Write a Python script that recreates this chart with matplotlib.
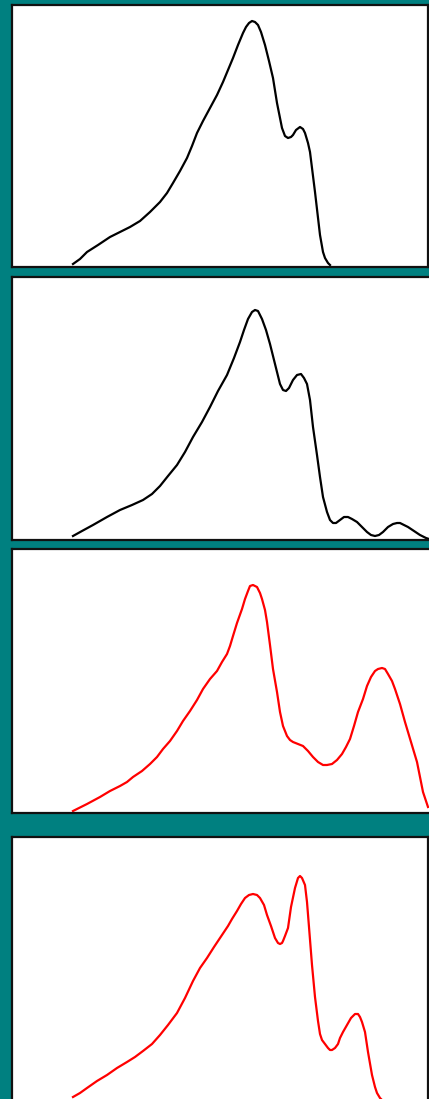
from matplotlib import pyplot as plt

W, H = 429, 1099

# Panel traces: x = position from panel left edge, y = height above baseline
p1_x = [61, 68, 75, 86, 98, 108, 118, 128, 138, 148, 155, 161, 168, 175, 180, 185, 191,
        198, 205, 211, 216, 221, 226, 231, 234, 237, 240, 243, 246, 249, 253, 257, 261,
        265, 270, 273, 276, 279, 281, 284, 288, 291, 293, 296, 298, 303, 308, 311, 313,
        316, 318]
p1_y = [3, 8, 15, 22, 30, 35, 40, 46, 55, 65, 74, 84, 96, 109, 121, 134, 146,
        159, 172, 185, 197, 209, 222, 234, 240, 244, 246, 245, 242, 235, 222, 206, 189,
        164, 139, 131, 129, 130, 132, 137, 140, 138, 134, 124, 115, 75, 32, 15, 9,
        4, 2]

p2_x = [61, 70, 81, 95, 108, 120, 131, 140, 148, 156, 165, 173, 181, 190, 198, 206, 215,
        222, 228, 232, 236, 240, 243, 246, 250, 254, 258, 263, 268, 271, 274, 277, 281,
        285, 289, 292, 295, 298, 301, 305, 308, 311, 315, 318, 321, 324, 328, 332, 336,
        340, 345, 350, 355, 359, 363, 367, 371, 376, 381, 385, 388, 392, 396, 402, 408,
        414, 420]
p2_y = [4, 9, 15, 23, 30, 35, 40, 46, 54, 64, 75, 88, 103, 118, 133, 149, 165,
        182, 198, 210, 221, 228, 230, 229, 221, 210, 196, 176, 156, 150, 149, 152, 160,
        165, 166, 162, 156, 140, 113, 85, 63, 43, 28, 20, 17, 17, 20, 23, 23,
        21, 18, 13, 8, 5, 4, 5, 8, 13, 16, 17, 17, 15, 13, 9, 5,
        2, 0]

p3_x = [61, 75, 88, 98, 108, 115, 121, 130, 138, 145, 151, 158, 165, 171, 178, 185, 191,
        198, 205, 210, 215, 218, 221, 225, 230, 233, 236, 238, 241, 243, 245, 248,
        250, 253, 255, 258, 261, 265, 268, 271, 275, 278, 281, 286, 291, 296, 301, 306,
        311, 315, 320, 325, 330, 334, 338, 342, 346, 351, 355, 359, 363, 366, 370,
        373, 376, 380, 383, 388, 393, 399, 405, 411, 416]
p3_y = [2, 9, 16, 22, 27, 31, 36, 42, 49, 56, 64, 72, 82, 92, 102, 113, 124,
        134, 142, 151, 159, 167, 177, 190, 204, 214, 222, 227, 228, 227, 226, 220,
        214, 203, 191, 168, 144, 121, 101, 87, 77, 73, 71, 69, 67, 62, 56, 51,
        48, 48, 49, 53, 59, 66, 74, 87, 101, 114, 127, 136, 142, 144, 145,
        144, 139, 132, 124, 109, 91, 71, 51, 21, 6]

p4_x = [61, 68, 75, 85, 95, 105, 115, 123, 131, 140, 148, 156, 165, 173, 181, 188, 195,
        202, 208, 212, 216, 220, 225, 229, 233, 237, 241, 245, 248, 252, 255, 259,
        263, 266, 268, 270, 271, 273, 276, 279, 283, 286, 288, 290, 293, 295, 297,
        300, 303, 306, 308, 310, 313, 316, 318, 320, 323, 326, 328, 331, 335, 339,
        343, 346, 348, 350, 353, 356, 360, 363, 365, 368, 370, 375, 380, 417]
p4_y = [5, 9, 14, 21, 27, 34, 40, 45, 51, 58, 67, 77, 89, 104, 121, 134, 144,
        155, 164, 170, 176, 183, 191, 198, 204, 207, 208, 207, 204, 197, 187, 176,
        164, 159, 158, 159, 161, 166, 174, 195, 214, 224, 226, 224, 217, 200, 175,
        137, 105, 81, 68, 62, 58, 54, 52, 52, 54, 58, 64, 70, 77, 84,
        88, 88, 85, 80, 70, 50, 27, 15, 9, 4, 2, 1, 1, 1]

panels = [
    # (left, right, top, bottom) in pixels, colour, x, y, show right spine, show bottom spine
    (12, 428, 5, 267, 'black', p1_x, p1_y, True, True),
    (12, 433, 277, 540, 'black', p2_x, p2_y, False, True),
    (12, 433, 549, 813, 'red', p3_x, p3_y, False, True),
    (12, 428, 837, 1102, 'red', p4_x, p4_y, True, False),
]

fig = plt.figure(figsize=(W / 100, H / 100), dpi=100)
fig.patch.set_facecolor('#008080')

for left, right, top, bottom, color, xs, ys, right_sp, bottom_sp in panels:
    ax = fig.add_axes([left / W, 1 - bottom / H, (right - left) / W, (bottom - top) / H])
    ax.set_facecolor('white')
    ax.plot(xs, ys, color=color, linewidth=1.6, solid_joinstyle='round')
    ax.set_xlim(0, right - left)
    ax.set_ylim(0, bottom - top)
    ax.set_xticks([])
    ax.set_yticks([])
    for name, sp in ax.spines.items():
        sp.set_linewidth(1.6)
        sp.set_color('#111111')
    ax.spines['right'].set_visible(right_sp)
    ax.spines['bottom'].set_visible(bottom_sp)

fig.savefig('out.png', dpi=100, facecolor=fig.get_facecolor())
